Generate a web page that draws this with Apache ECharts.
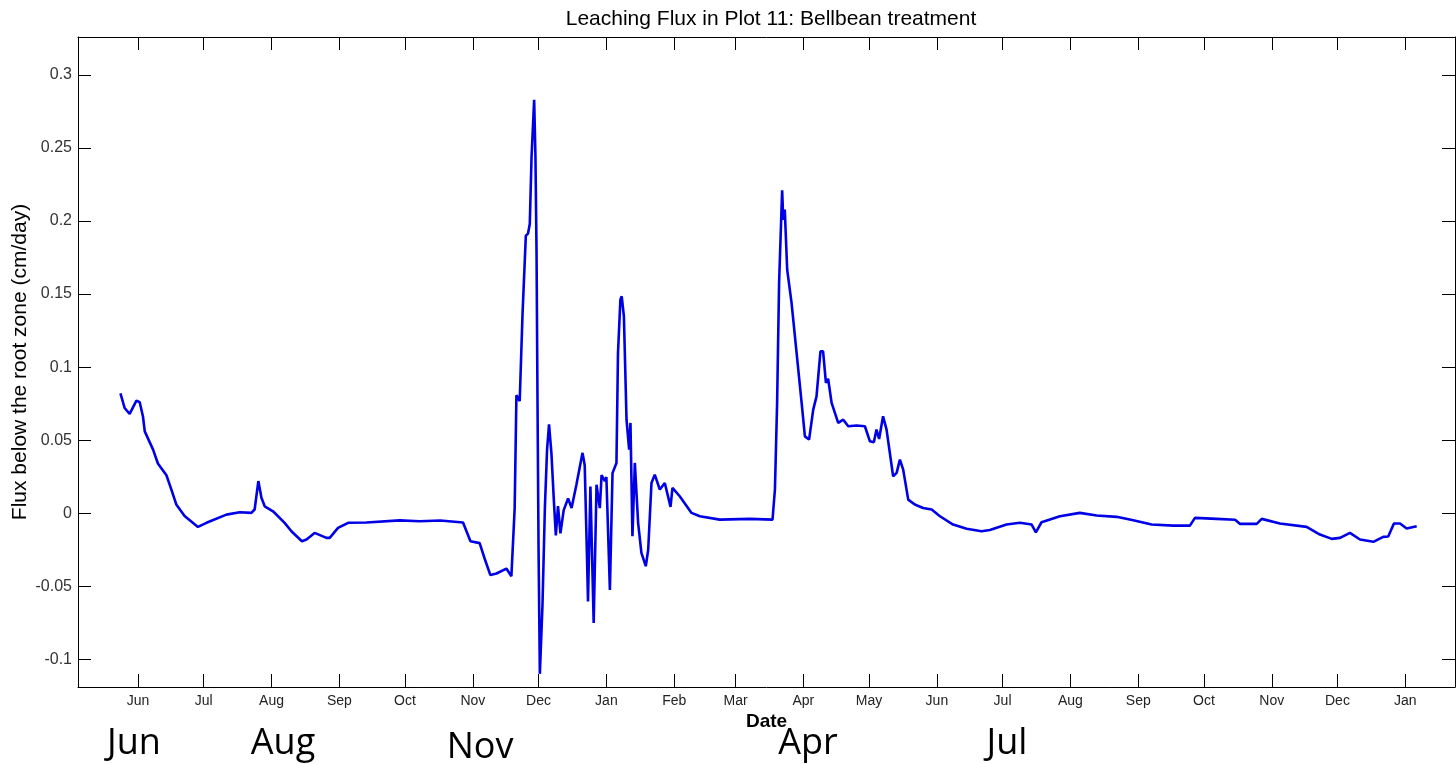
<!DOCTYPE html>
<html>
<head>
<meta charset="utf-8">
<script src="https://cdn.jsdelivr.net/npm/echarts@6.0.0/dist/echarts.min.js"></script>
<style>
html,body{margin:0;padding:0;background:#fff;}
#chart{width:1456px;height:764px;}
</style>
</head>
<body>
<div id="chart"></div>
<script>
// Day offsets are counted from 1 June (first year shown)
const startDate = '2010-06-01';
const monthStarts = ['2010-06-01','2010-07-01','2010-08-01','2010-09-01','2010-10-01','2010-11-01','2010-12-01',
  '2011-01-01','2011-02-01','2011-03-01','2011-04-01','2011-05-01','2011-06-01','2011-07-01','2011-08-01',
  '2011-09-01','2011-10-01','2011-11-01','2011-12-01','2012-01-01'];
const monthLabels = ['Jun','Jul','Aug','Sep','Oct','Nov','Dec','Jan','Feb','Mar','Apr','May','Jun','Jul','Aug','Sep','Oct','Nov','Dec','Jan'];
const yTickValues = [-0.1,-0.05,0,0.05,0.1,0.15,0.2,0.25,0.3];
const yTickLabels = ['-0.1','-0.05','0','0.05','0.1','0.15','0.2','0.25','0.3'];
const xRangeDays = [-27.4, 601.7];
const yRange = [-0.119, 0.326];

const days = [-8.0,-6.1,-3.8,-0.7,0.8,2.3,3.1,6.9,9.1,13.0,15.3,17.5,21.3,27.4,31.3,40.4,46.5,51.8,53.3,55.0,
  56.4,57.9,61.7,67.0,70.1,74.9,77.0,80.7,86.1,87.6,91.4,96.0,104.4,119.6,128.7,138.1,148.5,151.9,156.1,158.4,
  161.0,163.8,168.3,170.6,172.1,172.9,174.4,175.7,177.2,178.2,179.0,179.8,181.0,181.6,182.1,182.5,183.0,183.6,184.8,185.9,
  186.9,187.8,188.9,190.0,190.9,191.9,193.0,194.5,196.5,198.1,200.3,203.1,204.1,205.2,205.6,206.7,208.2,209.5,211.0,211.8,
  213.3,214.0,215.6,216.8,218.6,219.3,220.4,221.0,222.0,223.2,224.4,225.0,225.9,227.0,228.5,230.0,232.0,233.1,234.6,236.1,
  238.4,240.7,243.3,244.2,247.5,252.9,256.7,265.8,279.5,289.9,291.0,292.0,292.9,293.6,294.3,294.8,295.5,296.6,298.6,300.9,
  303.2,304.7,306.6,308.5,310.0,311.8,313.0,314.3,315.3,316.9,319.9,322.2,324.5,328.3,332.1,334.4,336.2,337.4,338.6,340.4,
  342.0,345.0,346.6,348.1,349.6,351.9,354.9,358.7,362.6,366.4,372.4,378.6,385.4,389.2,396.8,402.9,408.3,410.2,412.8,421.2,
  430.3,438.0,447.1,454.7,463.1,473.0,480.6,482.9,492.8,501.2,503.4,511.1,513.4,521.7,533.9,540.0,545.4,549.2,553.7,558.3,
  564.4,568.9,571.2,573.8,576.6,579.6,584.2];
const flux = [0.082,0.072,0.068,0.077,0.076,0.066,0.056,0.0435,0.034,0.026,0.016,0.006,-0.002,-0.0094,-0.0066,-0.001,0.0006,0.0002,0.0025,0.022,
  0.0105,0.0047,0.0013,-0.0066,-0.0124,-0.0192,-0.018,-0.0135,-0.0169,-0.0169,-0.0101,-0.0066,-0.0064,-0.0049,-0.0055,-0.005,-0.0064,-0.0192,-0.0205,-0.0312,
  -0.0424,-0.0413,-0.0379,-0.0432,0.0035,0.0808,0.0768,0.1368,0.190,0.1914,0.198,0.2435,0.283,0.2434,0.177,0.0835,-0.023,-0.110,-0.063,0.0035,
  0.0435,0.0608,0.0408,0.0088,-0.0152,0.0048,-0.0138,0.0021,0.0101,0.0035,0.0195,0.0413,0.0328,-0.0338,-0.0605,0.0182,-0.0752,0.0195,0.0035,0.0261,
  0.022,0.0248,-0.0525,0.0274,0.0344,0.1097,0.1462,0.1485,0.1348,0.064,0.0435,0.0618,-0.0158,0.0344,-0.0066,-0.0272,-0.0363,-0.025,0.0207,0.0264,
  0.0162,0.0207,0.0043,0.0173,0.0116,0.0002,-0.0021,-0.0044,-0.0039,-0.0044,0.0162,0.0755,0.1576,0.1895,0.221,0.2009,0.2078,0.1667,0.144,0.1097,
  0.0755,0.0526,0.0504,0.0709,0.08,0.1108,0.1108,0.0892,0.092,0.0755,0.0618,0.064,0.0595,0.060,0.0595,0.0492,0.0485,0.0572,0.0508,0.0663,
  0.0572,0.0253,0.0276,0.0367,0.0298,0.0093,0.0059,0.0036,0.0025,-0.0021,-0.0078,-0.0107,-0.0124,-0.0115,-0.0078,-0.0066,-0.0078,-0.0131,-0.0062,-0.0021,
  0.0002,-0.0016,-0.0025,-0.0049,-0.0078,-0.0085,-0.0085,-0.0032,-0.0039,-0.0045,-0.0073,-0.0073,-0.0039,-0.0071,-0.0094,-0.0146,-0.0176,-0.0169,-0.0135,-0.018,
  -0.0196,-0.0162,-0.016,-0.0071,-0.0071,-0.0105,-0.009];

const annotations = [
  {text:'Jun', x:134, y:744},
  {text:'Aug', x:283, y:744},
  {text:'Nov', x:480, y:748},
  {text:'Apr', x:808, y:744},
  {text:'Jul', x:1007, y:744}
];

const DAY = 86400000;
const base = Date.parse(startDate + 'T00:00:00Z');
const monthDays = monthStarts.map(s => Math.round((Date.parse(s + 'T00:00:00Z') - base) / DAY));
const seriesData = days.map((d, i) => [d, flux[i]]);

const FONT = '"Liberation Sans", Arial, sans-serif';
const black = '#000';

function xLabel(v){ const i = monthDays.indexOf(Math.round(v)); return i >= 0 ? monthLabels[i] : ''; }
function yLabel(v){ for (let i=0;i<yTickValues.length;i++){ if (Math.abs(yTickValues[i]-v) < 1e-9) return yTickLabels[i]; } return ''; }

const chart = echarts.init(document.getElementById('chart'), null, {renderer:'canvas'});
const baseX = {
  type:'value', min:xRangeDays[0], max:xRangeDays[1],
  axisLine:{show:true, onZero:false, lineStyle:{color:black, width:1}},
  axisTick:{show:true, inside:true, length:13, customValues:monthDays, lineStyle:{color:black, width:1}},
  splitLine:{show:false}
};
const baseY = {
  type:'value', min:yRange[0], max:yRange[1],
  axisLine:{show:true, onZero:false, lineStyle:{color:black, width:1}},
  axisTick:{show:true, inside:true, length:13, customValues:yTickValues, lineStyle:{color:black, width:1}},
  splitLine:{show:false}
};

chart.setOption({
  animation:false,
  backgroundColor:'#fff',
  title:{
    text:'Leaching Flux in Plot 11: Bellbean treatment',
    left:'766', top:4, textAlign:'center',
    textStyle:{fontFamily:FONT, fontSize:21, fontWeight:'normal', color:black}
  },
  grid:{left:78, right:1, top:37, bottom:77, containLabel:false, outerBoundsMode:'none'},
  xAxis:[
    Object.assign({}, baseX, {
      position:'bottom',
      name:'Date', nameLocation:'middle', nameGap:25, nameMoveOverlap:false,
      nameTextStyle:{fontFamily:FONT, fontSize:19, fontWeight:'bold', color:black},
      axisLabel:{show:true, customValues:monthDays, formatter:xLabel, fontFamily:FONT, fontSize:14, color:'#222', margin:7}
    }),
    Object.assign({}, baseX, {position:'top', axisLabel:{show:false}})
  ],
  yAxis:[
    Object.assign({}, baseY, {
      position:'left',
      name:'Flux below the root zone (cm/day)', nameLocation:'middle', nameGap:47, nameRotate:90, nameMoveOverlap:false,
      nameTextStyle:{fontFamily:FONT, fontSize:21, color:black},
      axisLabel:{show:true, customValues:yTickValues, formatter:yLabel, fontFamily:FONT, fontSize:16, color:'#333', margin:6}
    }),
    Object.assign({}, baseY, {position:'right', axisLabel:{show:false}})
  ],
  series:[{
    type:'line', xAxisIndex:0, yAxisIndex:0,
    data:seriesData, showSymbol:false, symbol:'none', smooth:false,
    lineStyle:{color:'#0000e6', width:2.6},
    clip:true
  }],
  graphic: annotations.map(a => ({
    type:'text', x:a.x, y:a.y,
    style:{text:a.text, x:0, y:0, textAlign:'center', textVerticalAlign:'middle',
      font:'36px "Open Sans", "Noto Sans", sans-serif', fill:'#000'}
  }))
});
</script>
</body>
</html>
